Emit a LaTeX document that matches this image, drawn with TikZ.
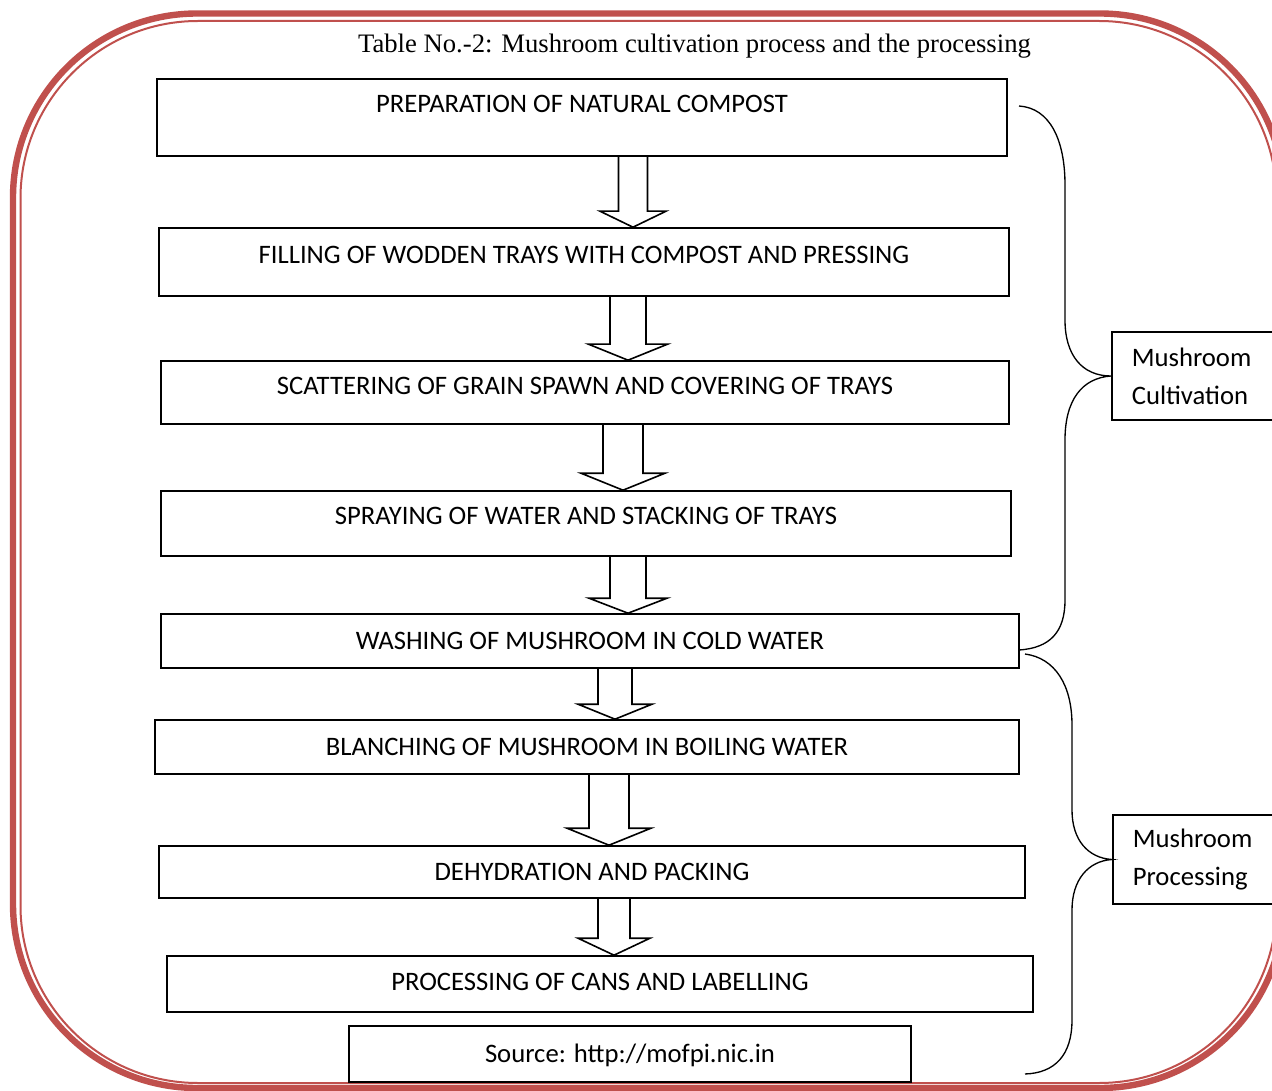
\documentclass[tikz,border=0pt]{standalone}
\usepackage{fontspec}
\setmainfont{Liberation Serif}
\newfontfamily\carlito{Carlito}
\usetikzlibrary{calc}

\tikzset{every picture/.style={line width=0.75pt}}
\tikzset{
	boxsize/.style 2 args={minimum width=#1*0.75pt, minimum height=#2*0.75pt},
	stepbox/.style={draw, line width=1.2pt, inner sep=0pt, text height=13pt, text depth=0pt, font=\carlito\fontsize{20}{24}\selectfont},
	sidebox/.style={draw, line width=1.2pt, anchor=west, inner xsep=15pt, inner ysep=0pt, text width=105pt, align=left, font=\carlito\fontsize{20}{28.5}\selectfont},
	brace/.style={line width=1pt},
	frameline/.style={draw={rgb,255:red,192;green,80;blue,77}}
}
% block arrow: from node, to node, centre coordinate, shaft half width, head half width, head length
\newcommand{\blockarrow}[6]{%
	\draw [line width=1.2pt] ($(#1.south -| #3)+(-#4,0)$) -- ($(#2.north -| #3)+(-#4,-#6)$) -- ($(#2.north -| #3)+(-#5,-#6)$) -- (#2.north -| #3) -- ($(#2.north -| #3)+(#5,-#6)$) -- ($(#2.north -| #3)+(#4,-#6)$) -- ($(#1.south -| #3)+(#4,0)$);
}

\begin{document}
\begin{tikzpicture}[x=0.75pt,y=0.75pt,yscale=-1,xscale=1]
	\useasboundingbox (0,0) rectangle (1272,1091);
	
	%Shape: Double frame
	\draw [frameline, line width=4.8pt, rounded corners=138pt] (13,13.5) rectangle (1284,1088);
	\draw [frameline, line width=1.5pt, rounded corners=133pt] (20.5,21) rectangle (1276.5,1083);
	
	% Text Node
	\node (title) [anchor=base, font=\fontsize{20}{23}\selectfont] at (694.5,53) {Table No.-2: Mushroom cultivation process and the processing};
	
	%Shape: Rectangle (steps)
	\node (b1) [stepbox, boxsize={850}{77}, text depth=20pt] at (582,117.5) {PREPARATION OF NATURAL COMPOST};
	\node (b2) [stepbox, boxsize={850}{68}, text depth=10.5pt] at (584,262) {FILLING OF WODDEN TRAYS WITH COMPOST AND PRESSING};
	\node (b3) [stepbox, boxsize={848}{63}, text depth=9.75pt] at (585,392.5) {SCATTERING OF GRAIN SPAWN AND COVERING OF TRAYS};
	\node (b4) [stepbox, boxsize={850}{65}, text depth=11.25pt] at (586,523.5) {SPRAYING OF WATER AND STACKING OF TRAYS};
	\node (b5) [stepbox, boxsize={858}{54}] at (590,641) {WASHING OF MUSHROOM IN COLD WATER};
	\node (b6) [stepbox, boxsize={864}{54}] at (587,747) {BLANCHING OF MUSHROOM IN BOILING WATER};
	\node (b7) [stepbox, boxsize={866}{52}] at (592,872) {DEHYDRATION AND PACKING};
	\node (b8) [stepbox, boxsize={866}{56}, text depth=3pt] at (600,984) {PROCESSING OF CANS AND LABELLING};
	\node (src) [stepbox, boxsize={562}{56}] at (630,1054) {Source: http://mofpi.nic.in};
	
	%Block arrows
	\coordinate (a1) at (633,0);
	\coordinate (a2) at (628,0);
	\coordinate (a3) at (623,0);
	\coordinate (a4) at (628,0);
	\coordinate (a5) at (615,0);
	\coordinate (a6) at (609,0);
	\coordinate (a7) at (614,0);
	\blockarrow{b1}{b2}{a1}{14.5}{33}{16}
	\blockarrow{b2}{b3}{a2}{18}{39.5}{16}
	\blockarrow{b3}{b4}{a3}{20}{42}{17}
	\blockarrow{b4}{b5}{a4}{18}{39}{15}
	\blockarrow{b5}{b6}{a5}{17}{37}{15}
	\blockarrow{b6}{b7}{a6}{20}{42}{17}
	\blockarrow{b7}{b8}{a7}{16}{36}{17}
	
	%Shape: Rectangle (side labels)
	\node (cult) [sidebox, boxsize={180}{88}] at (1111,376) {Mushroom\\Cultivation};
	\node (proc) [sidebox, boxsize={180}{89}] at (1112,859.5) {Mushroom\\Processing};
	
	%Curve Lines (braces)
	\coordinate (cultTop) at (1019,106);
	\coordinate (cultBot) at (1019,650);
	\draw [brace] (cultTop) .. controls (1050,108) and (1065,140) .. (1065,185) -- (1065,320) .. controls (1065,355) and (1082,376) .. (cult.west) .. controls (1082,378) and (1065,400) .. (1065,440) -- (1065,600) .. controls (1065,632) and (1050,648) .. (cultBot);
	\coordinate (procTop) at (1025,654);
	\coordinate (procBot) at (1025,1074);
	\draw [brace] (procTop) .. controls (1055,658) and (1072,685) .. (1072,725) -- (1072,810) .. controls (1072,840) and (1088,858) .. (proc.west) .. controls (1088,861) and (1072,880) .. (1072,910) -- (1072,1020) .. controls (1072,1055) and (1055,1073) .. (procBot);
	
\end{tikzpicture}
\end{document}
